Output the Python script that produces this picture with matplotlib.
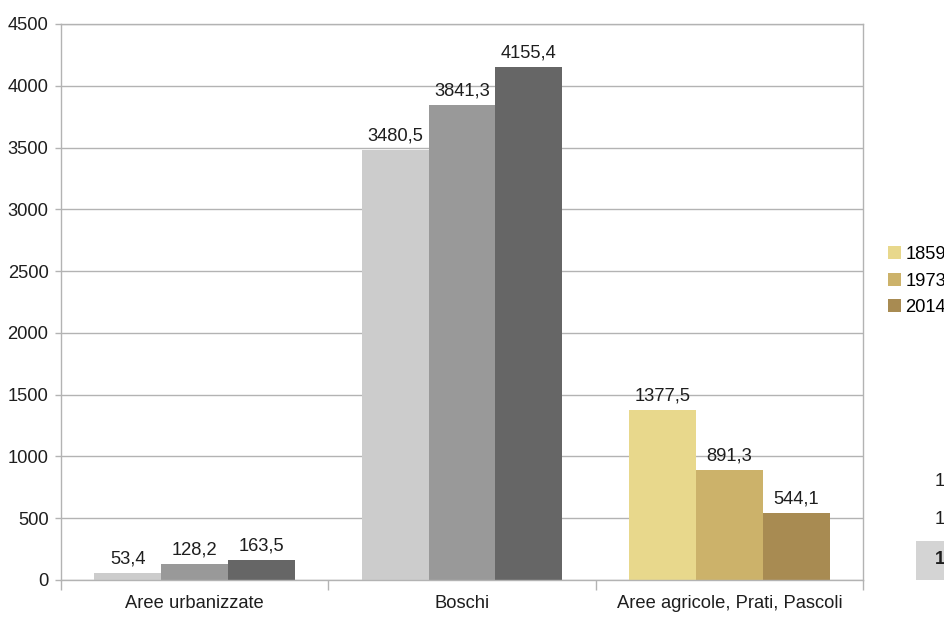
import matplotlib.pyplot as plt
from matplotlib.patches import Patch, Rectangle
import numpy as np

plt.rcParams['font.family'] = ['Liberation Sans', 'DejaVu Sans']

categories = ["Aree urbanizzate", "Boschi", "Aree agricole, Prati, Pascoli"]
years = ["1859", "1973", "2014"]
values_1859 = [53.4, 3480.5, 1377.5]
values_1973 = [128.2, 3841.3, 891.3]
values_2014 = [163.5, 4155.4, 544.1]
side_rows = ["1", "1", "1"]

grey_colors = ["#cccccc", "#999999", "#666666"]
sand_colors = ["#e8d88c", "#ccb26a", "#a88b52"]
grid_col = "#b3b3b3"
txt_col = "#1e1e1e"
fs = 13.2

fig = plt.figure(figsize=(9.45, 6.17), dpi=100)
ax = fig.add_axes([61 / 945, 37 / 617, 802 / 945, 556 / 617])

x = np.arange(len(categories))
width = 0.25
series = [values_1859, values_1973, values_2014]
for i, vals in enumerate(series):
    cols = [grey_colors[i], grey_colors[i], sand_colors[i]]
    bars = ax.bar(x + (i - 1) * width, vals, width, color=cols, zorder=2)
    ax.bar_label(bars, labels=[f"{v:.1f}".replace(".", ",") for v in vals],
                 padding=4, fontsize=fs, color=txt_col)

ax.set_xlim(-0.5, 2.5)
ax.set_ylim(0, 4500)
ax.set_yticks(np.arange(0, 4501, 500))
ax.yaxis.grid(True, color=grid_col, lw=1, zorder=0)
ax.set_axisbelow(True)

ax.set_xticks(x)
ax.set_xticklabels(categories)
ax.set_xticks([-0.5, 0.5, 1.5, 2.5], minor=True)
ax.tick_params(axis="x", which="major", length=0, pad=11, labelsize=fs, labelcolor=txt_col)
ax.tick_params(axis="x", which="minor", length=7, width=1, color=grid_col)
ax.tick_params(axis="y", length=4, width=1, color=grid_col, pad=5, labelsize=fs, labelcolor=txt_col)

for s in ax.spines.values():
    s.set_color(grid_col)
    s.set_linewidth(1)

handles = [Patch(facecolor=c, edgecolor="none") for c in sand_colors]
fig.legend(handles, years, loc="center left", bbox_to_anchor=(888 / 945, 1 - 281 / 617),
           frameon=False, fontsize=fs, handlelength=0.72, handleheight=0.72,
           handletextpad=0.22, labelspacing=0.5, borderpad=0, borderaxespad=0)

# small table block at the right edge
fig.patches.append(Rectangle((916 / 945, 37 / 617), 0.1, 39 / 617, transform=fig.transFigure,
                             facecolor="#d4d4d4", edgecolor="none", zorder=0))
for row, (label, yp) in enumerate(zip(side_rows, [482, 520, 560])):
    fig.text(935 / 945, 1 - yp / 617, label, fontsize=fs, va="center", color=txt_col,
             weight="bold" if row == 2 else "normal")

fig.savefig("out.png", dpi=100)
